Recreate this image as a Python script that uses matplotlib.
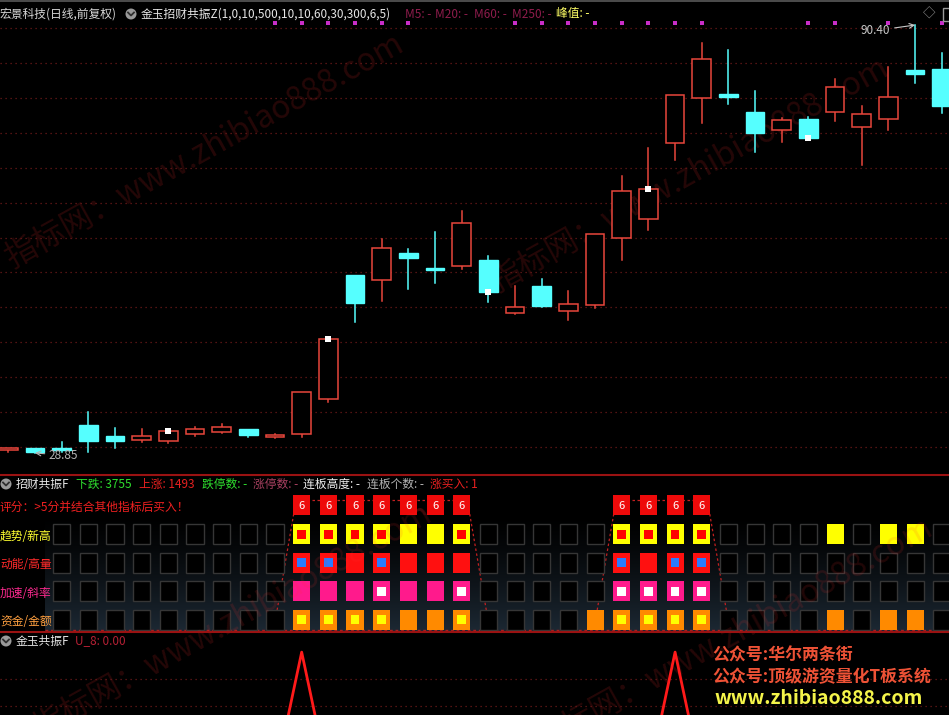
import numpy as np
import matplotlib
matplotlib.use("Agg")
import matplotlib.pyplot as plt
from matplotlib.patches import Rectangle, Ellipse
from matplotlib.lines import Line2D
import matplotlib.transforms as mtransforms

plt.rcParams['font.family'] = ['Noto Sans CJK SC', 'DejaVu Sans']

W, H = 949, 715

# daily candles
opens = [29.21, 29.53, 29.40, 32.88, 31.25, 30.68, 30.53, 31.58, 31.83, 32.26,
         31.11, 31.58, 36.62, 54.45, 53.73, 57.65, 55.50, 55.70, 56.65, 48.94,
         52.91, 49.27, 50.09, 59.72, 62.46, 73.38, 79.86, 80.47, 77.89, 75.30,
         76.84, 77.84, 75.69, 76.84, 83.88, 84.03]
closes = [29.50, 28.95, 29.30, 30.58, 30.53, 31.25, 31.97, 32.26, 32.55, 31.44,
          31.44, 37.66, 45.24, 50.38, 58.33, 56.85, 55.12, 61.92, 51.96, 49.85,
          50.03, 50.28, 60.34, 66.53, 66.77, 80.29, 85.46, 80.00, 74.82, 76.74,
          74.10, 81.44, 77.55, 80.00, 83.31, 78.75]
highs = [29.57, 29.57, 30.43, 34.79, 32.40, 32.26, 31.97, 32.63, 32.98, 32.30,
         31.58, 37.66, 45.34, 54.45, 59.62, 58.19, 60.67, 63.65, 57.18, 52.86,
         53.91, 52.15, 60.34, 68.68, 72.67, 80.29, 87.76, 86.80, 80.91, 77.02,
         77.17, 82.59, 78.75, 84.31, 90.40, 86.33]
lows = [28.95, 28.85, 28.99, 28.95, 29.53, 30.47, 30.24, 31.29, 31.73, 31.11,
        30.96, 31.19, 36.23, 47.73, 50.75, 52.39, 53.25, 55.27, 50.61, 48.80,
        49.89, 47.93, 49.66, 56.60, 60.92, 70.98, 76.26, 79.04, 72.18, 73.62,
        73.86, 76.64, 70.26, 75.30, 82.01, 77.79]

# magenta signal dots along the top, white close markers
dot_days = [10, 11, 12, 13, 14, 15, 19, 20, 21, 22, 23, 24, 25, 26, 30, 31, 33, 35]
mark_days = [6, 12, 18, 24, 30]

# 招财共振F grid: -1 none, 0 empty, 1 solid, 2 solid with inner dot
trend = [-1, -1, 0, 0, 0, 0, 0, 0, 0, 0, 0, 2, 2, 2, 2, 1, 1, 2, 0, 0,
         0, 0, 0, 2, 2, 2, 2, 0, 0, 0, 0, 1, 0, 1, 1, 0]
momentum = [-1, -1, 0, 0, 0, 0, 0, 0, 0, 0, 0, 2, 2, 1, 2, 1, 1, 1, 0, 0,
            0, 0, 0, 2, 1, 2, 2, 0, 0, 0, 0, 0, 0, 0, 0, 0]
accel = [-1, -1, 0, 0, 0, 0, 0, 0, 0, 0, 0, 1, 1, 1, 2, 1, 1, 2, 0, 0,
         0, 0, 0, 2, 2, 2, 2, 0, 0, 0, 0, 0, 0, 0, 0, 0]
funds = [-1, -1, 0, 0, 0, 0, 0, 0, 0, 0, 0, 2, 2, 2, 2, 1, 1, 2, 0, 0,
         0, 0, 1, 2, 2, 2, 2, 0, 0, 0, 0, 1, 0, 1, 1, 0]
score = [0]*11 + [6]*7 + [0]*5 + [6]*4 + [0]*9
row_names = ['趋势/新高', '动能/高量', '加速/斜率', '资金/金额']

# 金玉共振F U_8
u8 = [0]*11 + [1] + [0]*13 + [1] + [0]*10

n = len(opens)
x = np.arange(n)
RED = '#e8463c'
CYAN = '#55ffff'
XL = (-0.311, 35.27)

fig = plt.figure(figsize=(W/100, H/100), dpi=100, facecolor='black')


def fy(py):
    return 1 - py / H


def ftext(px, py, s, color, size=8.5, **kw):
    fig.text(px / W, fy(py), s, color=color, fontsize=size, va='center', ha=kw.pop('ha', 'left'), **kw)


def icon(px, py):
    fig.add_artist(Ellipse((px / W, fy(py)), 11 / W, 11 / H, transform=fig.transFigure,
                           facecolor='#9a9a9a', edgecolor='none'))
    fig.add_artist(Line2D([(px - 3) / W, px / W, (px + 3) / W], [fy(py - 1.5), fy(py + 1.5), fy(py - 1.5)],
                          transform=fig.transFigure, color='#303030', lw=1.3))


# ---------------- main candle panel ----------------
ax = fig.add_axes([0, fy(474), 1, 474 / H])
ax.set_facecolor('none')
ax.set_xlim(*XL)
ax.set_ylim(25.83, 94.0)
ax.axis('off')
for g in np.linspace(29.76, 89.92, 13):
    ax.axhline(g, color='#6e1a1a', lw=0.9, ls=(0, (1, 3)), zorder=1)

bw = 0.7
for i in range(n):
    o, c, h, l = opens[i], closes[i], highs[i], lows[i]
    top, bot = max(o, c), min(o, c)
    if c > o:
        col = RED
        ax.add_patch(Rectangle((i - bw/2, bot), bw, max(top - bot, 0.12), facecolor='black',
                               edgecolor=col, lw=1.1, zorder=3))
    else:
        col = CYAN
        ax.add_patch(Rectangle((i - bw/2, bot), bw, max(top - bot, 0.25), facecolor=col,
                               edgecolor=col, lw=1.0, zorder=3))
    ax.plot([i, i], [top, h], color=col, lw=1.1, zorder=2)
    ax.plot([i, i], [l, bot], color=col, lw=1.1, zorder=2)

ax.scatter([x[i] for i in mark_days], [closes[i] for i in mark_days], marker='s', s=14,
           color='white', zorder=5, linewidths=0)
blend = mtransforms.blended_transform_factory(ax.transData, ax.transAxes)
ax.scatter(dot_days, [1 - 23 / 474] * len(dot_days), transform=blend, marker='s', s=6,
           color='#c82ec8', linewidths=0, zorder=5)

imax = int(np.argmax(highs))
imin = int(np.argmin(lows))
ax.annotate(f'{highs[imax]:.2f}', xy=(imax, highs[imax]), xytext=(-39, -4), textcoords='offset points',
            color='#c8c8c8', fontsize=8.5, va='center', ha='left',
            arrowprops=dict(arrowstyle='->', color='#c8c8c8', lw=0.8, shrinkA=1, shrinkB=0))
ax.annotate(f'{lows[imin]:.2f}', xy=(imin, lows[imin]), xytext=(10, -1.5), textcoords='offset points',
            color='#b4b4b4', fontsize=8.5, va='center', ha='left',
            arrowprops=dict(arrowstyle='->', color='#b4b4b4', lw=0.8, shrinkA=1, shrinkB=0))

# ---------------- 招财共振F panel ----------------
ax2 = fig.add_axes([0, fy(631), 1, (631 - 475) / H])
ax2.set_facecolor('black')
ax2.set_xlim(*XL)
ax2.set_ylim(631, 475)
ax2.axis('off')
grad = np.linspace(0, 1, 100)[:, None] ** 1.3
dark = np.array([0x1c, 0x28, 0x33]) / 255
img = grad[..., None] * dark
img = np.repeat(img, 2, axis=1)
ax2.imshow(img, extent=[(45 - 8.3) / 26.67, XL[1], 631, 515], aspect='auto', zorder=0,
           interpolation='bilinear')

row_y = [534, 562.6, 591.2, 619.8]
rows = [trend, momentum, accel, funds]
row_cols = [('#ffff00', '#ff0000'), ('#ff1010', '#2a7cff'), ('#ff1a8c', '#ffffff'), ('#ff8a00', '#ffff00')]
label_cols = ['#ffff30', '#ff2a2a', '#ff2a90', '#ffa040']
sw, sh = 0.64, 20
iw, ih = 0.32, 9
for r, vals in enumerate(rows):
    yc = row_y[r]
    outer, inner = row_cols[r]
    for i, v in enumerate(vals):
        if v < 0:
            continue
        if v == 0:
            ax2.add_patch(Rectangle((i - sw/2, yc - sh/2), sw, sh, facecolor='black',
                                    edgecolor='#363636', lw=1.0, zorder=3))
        else:
            ax2.add_patch(Rectangle((i - sw/2, yc - sh/2), sw, sh, facecolor=outer,
                                    edgecolor='none', zorder=3))
            if v == 2:
                ax2.add_patch(Rectangle((i - iw/2, yc - ih/2), iw, ih, facecolor=inner,
                                        edgecolor='none', zorder=4))
    ftext(0, yc + 2, row_names[r], label_cols[r], size=8.5)

# score boxes and dotted outlines
sy = 505
groups = []
for i, s in enumerate(score):
    if s:
        ax2.add_patch(Rectangle((i - sw/2, sy - 10), sw, 20, facecolor='#ee0a0a', edgecolor='none', zorder=5))
        ax2.text(i, sy + 1, str(s), color='white', fontsize=8, ha='center', va='center', zorder=6)
        if groups and groups[-1][1] == i - 1:
            groups[-1][1] = i
        else:
            groups.append([i, i])
dl = dict(color='#c42020', lw=0.9, ls=(0, (2, 2)), zorder=2)
for a, b in groups:
    ax2.plot([a, b], [500, 500], **dl)
    ax2.plot([a - 0.3, a - 1.05], [514, 630], **dl)
    ax2.plot([b + 0.3, b + 1.05], [514, 630], **dl)
ax2.plot([(45 - 8.3) / 26.67, XL[1]], [629.5, 629.5], color='#a82020', lw=1.0, ls=(0, (2, 2)), zorder=2)

# ---------------- 金玉共振F panel ----------------
ax3 = fig.add_axes([0, 0, 1, (715 - 632) / H])
ax3.set_facecolor('none')
ax3.set_xlim(*XL)
ax3.set_ylim(0.5, 1.16)
ax3.axis('off')
for g in [0.786, 0.571]:
    ax3.axhline(g, color='#6e1a1a', lw=0.9, ls=(0, (1, 3)))
ax3.plot(x, u8, color='#ff1a1a', lw=2.0, zorder=3)

# separators and frame
for py, col, lw in [(1.0, '#5a5a5a', 1.2), (474.5, '#9a1212', 1.5), (631.5, '#9a1212', 1.5)]:
    fig.add_artist(Line2D([0, 1], [fy(py), fy(py)], transform=fig.transFigure, color=col, lw=lw))

# ---------------- header texts ----------------
ftext(0, 14, '宏景科技(日线,前复权)', '#d6d6d6')
icon(131, 14)
ftext(141, 14, '金玉招财共振Z(1,0,10,500,10,10,60,30,300,6,5)', '#e6e6e6')
ftext(405, 14, 'M5: -', '#8e1c4c')
ftext(435, 14, 'M20: -', '#8e1c4c')
ftext(474, 14, 'M60: -', '#8e1c4c')
ftext(512, 14, 'M250: -', '#8e1c4c')
ftext(556, 14, '峰值: -', '#ffff66')
ftext(929, 14, '◇', '#9a9a9a', size=9, ha='center')
fig.add_artist(Rectangle((943 / W, fy(21)), 8 / W, 13 / H, transform=fig.transFigure,
                         facecolor='none', edgecolor='#9a9a9a', lw=1))

icon(6, 484)
ftext(16, 484, '招财共振F', '#e6e6e6')
ftext(76, 484, '下跌: 3755', '#2ee02e')
ftext(139, 484, '上涨: 1493', '#e82020')
ftext(202, 484, '跌停数: -', '#2ee02e')
ftext(253, 484, '涨停数: -', '#a84060')
ftext(303, 484, '连板高度: -', '#f0f0f0')
ftext(367, 484, '连板个数: -', '#b4b4b4')
ftext(430, 484, '涨买入: 1', '#e82020')
ftext(0, 507, '评分：>5分并结合其他指标后买入！', '#f02020')

icon(6, 641)
ftext(16, 641, '金玉共振F', '#e6e6e6')
ftext(75, 641, 'U_8: 0.00', '#b42034')

ftext(712, 655, '公众号:华尔两条街', '#ee5236', size=12.2, fontweight='bold')
ftext(712, 677, '公众号:顶级游资量化T板系统', '#ee5236', size=12.2, fontweight='bold')
ftext(714, 699, 'www.zhibiao888.com', '#f4f44a', size=14, fontweight='bold')

# faint diagonal watermarks (drawn under the transparent panels)
for px, py in [(12, 268), (497, 292), (40, 738), (541, 752)]:
    fig.text(px / W, fy(py), '指标网：www.zhibiao888.com', color='#ff3030', alpha=0.15,
             fontsize=23, rotation=29, rotation_mode='anchor', ha='left', va='baseline', zorder=-1)
for px, py in [(40, 738), (541, 752)]:
    fig.text(px / W, fy(py), '指标网：www.zhibiao888.com', color='#ff3030', alpha=0.13,
             fontsize=23, rotation=29, rotation_mode='anchor', ha='left', va='baseline', zorder=20,
             clip_on=True, clip_box=ax2.bbox)

fig.savefig('out.png', dpi=100, facecolor='black')
